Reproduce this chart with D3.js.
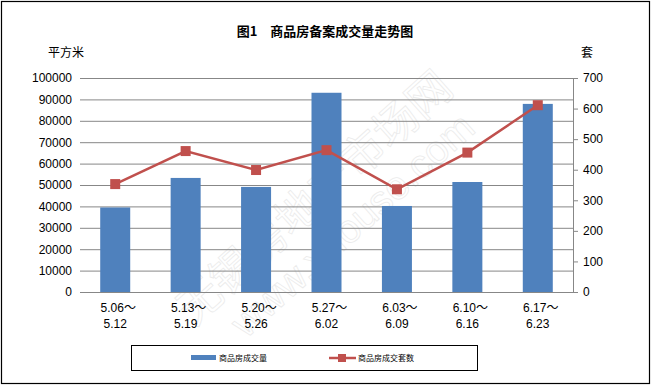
<!DOCTYPE html>
<html>
<head>
<meta charset="utf-8">
<script src="https://cdn.jsdelivr.net/npm/d3@7"></script>
<style>
    body { margin: 0; background: #fff; }
    text { font-family: "Liberation Sans", "Noto Sans CJK SC", sans-serif; }
    .cjk { font-family: "Noto Sans CJK SC", sans-serif; }
</style>
</head>
<body>
<svg></svg>
<script>
const
    weeksTop = ['5.06～', '5.13～', '5.20～', '5.27～', '6.03～', '6.10～', '6.17～'],
    weeksBottom = ['5.12', '5.19', '5.26', '6.02', '6.09', '6.16', '6.23'],
    area = [39500, 53300, 49100, 93100, 40200, 51400, 87900],
    units = [353, 461, 399, 464, 336, 456, 611],
    leftTicks = [0, 10000, 20000, 30000, 40000, 50000, 60000, 70000, 80000, 90000, 100000],
    rightTicks = [0, 100, 200, 300, 400, 500, 600, 700]

const
    width = 651,
    height = 386,
    margin = { top: 78, right: 78, bottom: 94, left: 80 }

const svg = d3.select('svg')
    .attr('width', width)
    .attr('height', height)

// outer frame
svg.append('rect')
    .attr('x', 1.5).attr('y', 1.5)
    .attr('width', width - 3).attr('height', height - 4)
    .attr('fill', 'none').attr('stroke', '#000').attr('stroke-width', 1.2)

const x = d3.scaleBand()
    .domain(weeksTop)
    .range([margin.left, width - margin.right])
    .paddingInner(0.574)
    .paddingOuter(0.287)

const yL = d3.scaleLinear().domain([0, 100000]).range([height - margin.bottom, margin.top])
const yR = d3.scaleLinear().domain([0, 700]).range([height - margin.bottom, margin.top])

// watermark (drawn under the data)
const wm = svg.append('g')
    .attr('transform', 'translate(330,215) rotate(-42)')
    .attr('fill', 'none').attr('stroke', '#ebebeb').attr('stroke-width', 0.8)
wm.append('text').attr('class', 'cjk').attr('x', 0).attr('y', -8)
    .attr('text-anchor', 'middle').attr('font-size', 44).text('无锡房地产市场网')
wm.append('text').attr('x', 10).attr('y', 36)
    .attr('text-anchor', 'middle').attr('font-size', 40).text('www.xhouse.com')

// gridlines + left labels
const left = svg.append('g')
    .attr('transform', `translate(${margin.left},0)`)
    .call(d3.axisLeft(yL).tickValues(leftTicks).tickFormat(d3.format('d'))
        .tickSize(-(width - margin.left - margin.right)).tickPadding(8))
left.select('.domain').remove()
left.selectAll('line').attr('stroke', '#878787')
left.selectAll('text').attr('font-size', 12).attr('fill', '#000')

// right axis
const right = svg.append('g')
    .attr('transform', `translate(${width - margin.right},0)`)
    .call(d3.axisRight(yR).tickValues(rightTicks).tickSize(5).tickPadding(5).tickSizeOuter(0))
right.selectAll('line, path').attr('stroke', '#878787')
right.selectAll('text').attr('font-size', 12).attr('fill', '#000')

// category labels
const cats = svg.append('g')
cats.selectAll('text.top')
    .data(weeksTop)
    .enter().append('text')
    .attr('class', 'top')
    .attr('x', d => x(d) + x.bandwidth() / 2 + 3)
    .attr('y', 312)
    .attr('text-anchor', 'middle')
    .attr('font-size', 12)
    .text(d => d)
cats.selectAll('text.bottom')
    .data(weeksBottom)
    .enter().append('text')
    .attr('class', 'bottom')
    .attr('x', (d, i) => x(weeksTop[i]) + x.bandwidth() / 2)
    .attr('y', 328)
    .attr('text-anchor', 'middle')
    .attr('font-size', 12)
    .text(d => d)

// bars
svg.append('g').selectAll('rect')
    .data(area)
    .enter().append('rect')
    .attr('x', (d, i) => x(weeksTop[i]))
    .attr('y', d => yL(d))
    .attr('width', x.bandwidth())
    .attr('height', d => yL(0) - yL(d))
    .attr('fill', '#4f81bd')

// line
const cx = (d, i) => x(weeksTop[i]) + x.bandwidth() / 2
svg.append('path')
    .datum(units)
    .attr('fill', 'none')
    .attr('stroke', '#c0504d')
    .attr('stroke-width', 2.5)
    .attr('d', d3.line().x(cx).y(d => yR(d)))
svg.append('g').selectAll('rect')
    .data(units)
    .enter().append('rect')
    .attr('x', (d, i) => cx(d, i) - 5)
    .attr('y', d => yR(d) - 5)
    .attr('width', 10).attr('height', 10)
    .attr('fill', '#c0504d')

// titles
svg.append('text')
    .attr('class', 'cjk')
    .attr('x', 325).attr('y', 36)
    .attr('text-anchor', 'middle')
    .attr('font-size', 13).attr('font-weight', 'bold')
    .text('图1　商品房备案成交量走势图')
svg.append('text').attr('class', 'cjk')
    .attr('x', 48).attr('y', 57).attr('font-size', 12).text('平方米')
svg.append('text').attr('class', 'cjk')
    .attr('x', 581).attr('y', 57).attr('font-size', 12).text('套')

// legend
const legend = svg.append('g')
legend.append('rect')
    .attr('x', 131.5).attr('y', 345.5).attr('width', 346).attr('height', 25)
    .attr('fill', '#fff').attr('stroke', '#000')
legend.append('rect')
    .attr('x', 191).attr('y', 355).attr('width', 25).attr('height', 5)
    .attr('fill', '#4f81bd')
legend.append('text').attr('class', 'cjk')
    .attr('x', 219).attr('y', 361).attr('font-size', 8).text('商品房成交量')
legend.append('line')
    .attr('x1', 329).attr('x2', 356).attr('y1', 358).attr('y2', 358)
    .attr('stroke', '#c0504d').attr('stroke-width', 2.5)
legend.append('rect')
    .attr('x', 338).attr('y', 354).attr('width', 8).attr('height', 8)
    .attr('fill', '#c0504d')
legend.append('text').attr('class', 'cjk')
    .attr('x', 358).attr('y', 361).attr('font-size', 8).text('商品房成交套数')
</script>
</body>
</html>
